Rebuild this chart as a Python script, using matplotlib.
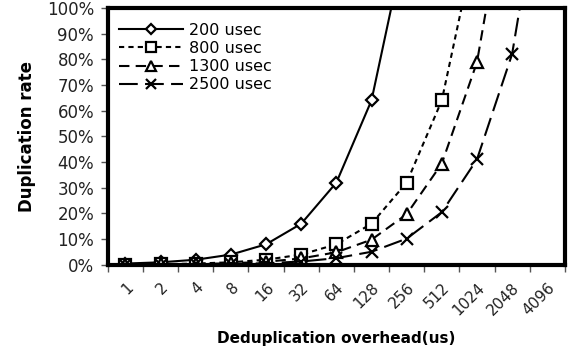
import numpy as np
import matplotlib
matplotlib.use("Agg")
import matplotlib.pyplot as plt

# overhead categories (us) and duplication rate (%) per timeout
overheads = ["1", "2", "4", "8", "16", "32", "64", "128", "256", "512", "1024", "2048", "4096"]
rate_200 = [0.5, 1, 2, 4, 8, 16, 32, 64, 128, np.nan, np.nan, np.nan, np.nan]
rate_800 = [0.125, 0.25, 0.5, 1, 2, 4, 8, 16, 32, 64, 128, np.nan, np.nan]
rate_1300 = [0.08, 0.15, 0.31, 0.62, 1.2, 2.5, 4.9, 9.8, 19.7, 39.4, 78.8, 157.5, np.nan]
rate_2500 = [0.04, 0.08, 0.16, 0.32, 0.64, 1.3, 2.6, 5.1, 10.2, 20.5, 41, 82, 164]

series = [
    ("200 usec", rate_200, "-", "D", 6),
    ("800 usec", rate_800, (0, (2.5, 2)), "s", 8),
    ("1300 usec", rate_1300, (0, (5, 3)), "^", 8),
    ("2500 usec", rate_2500, (0, (9, 3.5)), "x", 8),
]

fig = plt.figure(figsize=(5.74, 3.56), dpi=100)
ax = fig.add_axes([0.188, 0.256, 0.796, 0.722])

x = np.arange(len(overheads))
for label, vals, ls, mk, ms in series:
    ax.plot(x, vals, color="black", linestyle=ls, linewidth=1.5,
            marker=mk, markersize=ms, markerfacecolor="white",
            markeredgecolor="black", markeredgewidth=1.6, label=label)

ax.set_xlim(-0.5, len(overheads) - 0.5)
ax.set_ylim(0, 100)

ax.set_xticks(x)
ax.set_xticklabels(overheads, rotation=45, ha="right", rotation_mode="anchor")
ax.set_xticks(np.arange(-0.5, len(overheads)), minor=True)
ax.tick_params(axis="x", which="major", length=0, pad=11, labelsize=11, labelcolor="#222222")
ax.tick_params(axis="x", which="minor", length=5, width=1, color="#555555")

yt = np.arange(0, 101, 10)
ax.set_yticks(yt)
ax.set_yticklabels([f"{v}%" for v in yt])
ax.tick_params(axis="y", length=5, width=1, color="#555555", labelsize=12, pad=5,
               labelcolor="#222222")

for s in ax.spines.values():
    s.set_linewidth(3)

ax.set_ylabel("Duplication rate", fontsize=12, fontweight="bold", labelpad=8)
ax.set_xlabel("Deduplication overhead(us)", fontsize=11, fontweight="bold", labelpad=9)

ax.legend(loc="upper left", bbox_to_anchor=(0.0, 0.985), frameon=False,
          fontsize=11.5, handlelength=4.0, labelspacing=0.2, handletextpad=0.4,
          borderaxespad=0.3, markerscale=0.85)

fig.savefig("out.png", dpi=100)
